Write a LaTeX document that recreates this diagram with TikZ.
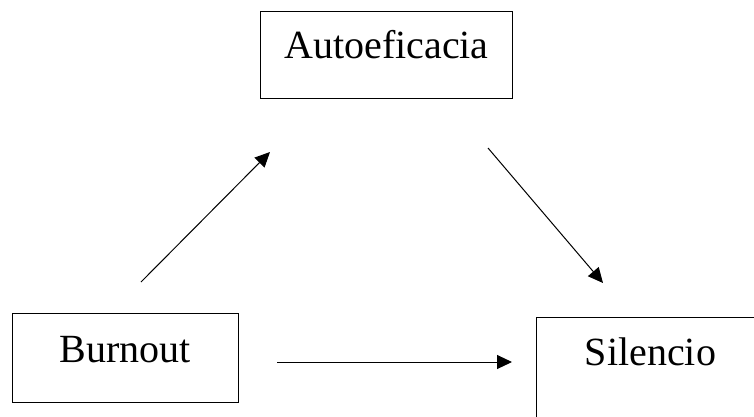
\documentclass[tikz,border=0pt]{standalone}
\usepackage{fontspec}
\setmainfont{Liberation Serif}
\usetikzlibrary{arrows.meta}
\begin{document}
\begin{tikzpicture}[x=1pt,y=-1pt,
  box/.style={draw=black, line width=1pt, inner sep=0pt, anchor=north west, align=center, font=\fontsize{40}{44}\selectfont},
  link/.style={line width=1pt, -{Triangle[length=15pt,width=14pt]}}]
\clip (0,0) rectangle (754,416);
\fill[white] (0,0) rectangle (754,416);
\node[box, text width=252pt, text height=47pt, text depth=40pt] (auto) at (260,11) {Autoeficacia};
\node[box, text width=226pt, text height=49pt, text depth=40pt] (burn) at (12,313) {Burnout};
\node[box, text width=228pt, text height=48pt, text depth=70pt] (sil) at (536,317) {Silencio};
\coordinate (a1) at (141,282);
\coordinate (a2) at (270,152);
\coordinate (b1) at (488,148);
\coordinate (b2) at (603,283);
\coordinate (c1) at (277,362);
\coordinate (c2) at (512,362);
\draw[link] (a1) -- (a2);
\draw[link] (b1) -- (b2);
\draw[link] (c1) -- (c2);
\end{tikzpicture}
\end{document}
